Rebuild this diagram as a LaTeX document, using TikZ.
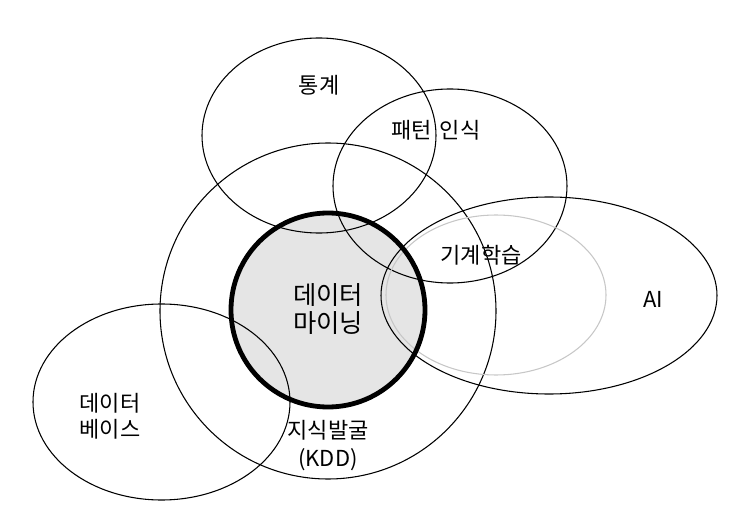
\documentclass[tikz,border=0pt]{standalone}
\usepackage{fontspec}
\setmainfont{Noto Sans CJK KR}
\newfontfamily\kr{Noto Sans CJK KR}
\begin{document}
\begin{tikzpicture}[x=0.75pt,y=-0.75pt,
  set/.style={draw=black,line width=0.8pt},
  mlset/.style={draw=black!22,line width=0.8pt},
  lab/.style={font=\kr\fontsize{16.5}{19.5}\selectfont,align=center,inner sep=0pt},
  dmlab/.style={font=\kr\fontsize{19}{20.5}\selectfont,align=center,inner sep=0pt}]
\useasboundingbox (0,0) rectangle (744,517);
% data mining fill
\fill[black!10] (328,310) circle[radius=97];
% sets
\draw[set] (319,135.5) ellipse[x radius=117,y radius=97.5];
\draw[set] (450,186) ellipse[x radius=117,y radius=97];
\draw[set] (328,311) circle[radius=168];
\draw[set] (549,295.5) ellipse[x radius=168,y radius=98.5];
\draw[mlset] (496,295) ellipse[x radius=110,y radius=80];
\draw[set] (161.5,402) ellipse[x radius=128.5,y radius=98];
% data mining outline
\draw[line width=3.6pt] (328,310) circle[radius=97];
% labels
\node[lab] (stat) at (319,85) {통계};
\node[lab] (pat) at (436,130) {패턴\hspace{0.35em}인식};
\node[lab] (ml) at (481,255) {기계학습};
\node[lab] (ai) at (653,299) {AI};
\node[dmlab] (dm) at (328,309) {데이터\\마이닝};
\node[lab] (db) at (110,416) {데이터\\베이스};
\node[lab] (kdd) at (328,446) {지식발굴\\[1.5pt](KDD)};
\end{tikzpicture}
\end{document}
